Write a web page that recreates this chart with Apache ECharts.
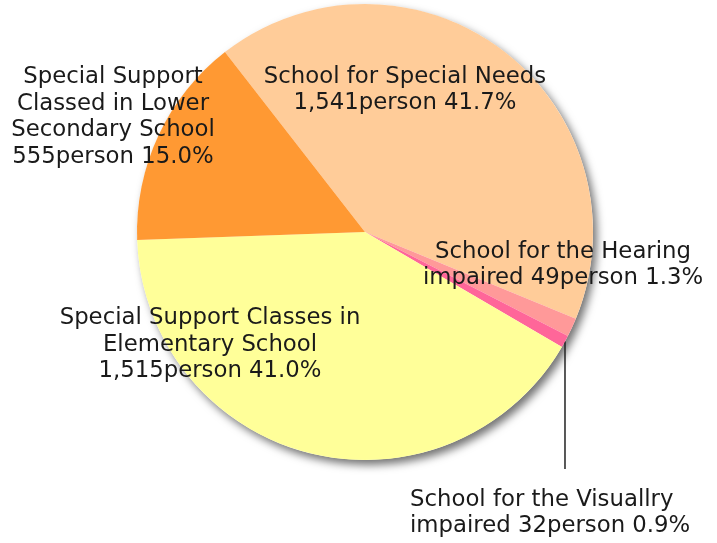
<!DOCTYPE html>
<html>
<head>
<meta charset="utf-8">
<script src="https://cdn.jsdelivr.net/npm/echarts@6/dist/echarts.min.js"></script>
<style>
  html, body { margin: 0; padding: 0; background: #fff; }
  #chart { width: 717px; height: 543px; }
</style>
</head>
<body>
<div id="chart"></div>
<script>
// data
const schoolNames = [
  'School for Special Needs',
  'School for the Hearing\nimpaired',
  'School for the Visuallry\nimpaired',
  'Special Support Classes in\nElementary School',
  'Special Support\nClassed in Lower\nSecondary School'
]
const personCounts = [1541, 49, 32, 1515, 555]
const sliceColors = ['#FFCC99', '#FF9999', '#FF6699', '#FFFF99', '#FF9933']

// where each label sits (px), visual-impaired one is left aligned under a leader line
const labelSpots = [
  { x: 405, y: 90, align: 'center' },
  { x: 563, y: 265, align: 'center' },
  { x: 410, y: 513, align: 'left' },
  { x: 210, y: 345, align: 'center' },
  { x: 113, y: 117, align: 'center' }
]

const total = personCounts.reduce((a, b) => a + b, 0)

let chartDom = document.getElementById('chart')
let myChart = echarts.init(chartDom)

let option = {
  animation: false,
  textStyle: { fontFamily: 'DejaVu Sans' },
  series: [
    {
      // shadow disc under the pie
      type: 'pie',
      silent: true,
      z: 1,
      center: [365, 232],
      radius: 228,
      label: { show: false },
      labelLine: { show: false },
      itemStyle: {
        color: '#ffffff',
        shadowBlur: 8,
        shadowOffsetX: 4,
        shadowOffsetY: 5,
        shadowColor: 'rgba(0,0,0,0.55)'
      },
      data: [{ value: total, name: 'all' }]
    },
    {
      type: 'pie',
      z: 2,
      center: [365, 232],
      radius: 228,
      startAngle: 127.9,
      clockwise: true,
      data: personCounts.map((v, i) => ({
        value: v,
        name: schoolNames[i],
        itemStyle: { color: sliceColors[i] },
        label: { position: i === 2 ? 'outside' : 'inside' },
        labelLine: { show: i === 2 }
      })),
      itemStyle: { borderWidth: 0 },
      label: {
        show: true,
        color: '#1a1a1a',
        fontSize: 22.8,
        lineHeight: 26.5,
        fontFamily: 'DejaVu Sans',
        overflow: 'none',
        formatter: function (p) {
          let sep = p.name.endsWith('impaired') ? ' ' : '\n'
          return p.name + sep + p.value.toLocaleString('en-US') + 'person ' + p.percent.toFixed(1) + '%'
        }
      },
      labelLine: {
        lineStyle: { color: '#222', width: 1.5 },
        length: 20,
        length2: 0
      },
      labelLayout: function (params) {
        let s = labelSpots[params.dataIndex]
        let out = { x: s.x, y: s.y, align: s.align, verticalAlign: 'middle', width: 340 }
        if (params.dataIndex === 2 && params.labelLinePoints) {
          let p0 = params.labelLinePoints[0]
          out.labelLinePoints = [p0, [p0[0], 469], [p0[0], 469]]
        }
        return out
      }
    }
  ]
}

myChart.setOption(option)
</script>
</body>
</html>
